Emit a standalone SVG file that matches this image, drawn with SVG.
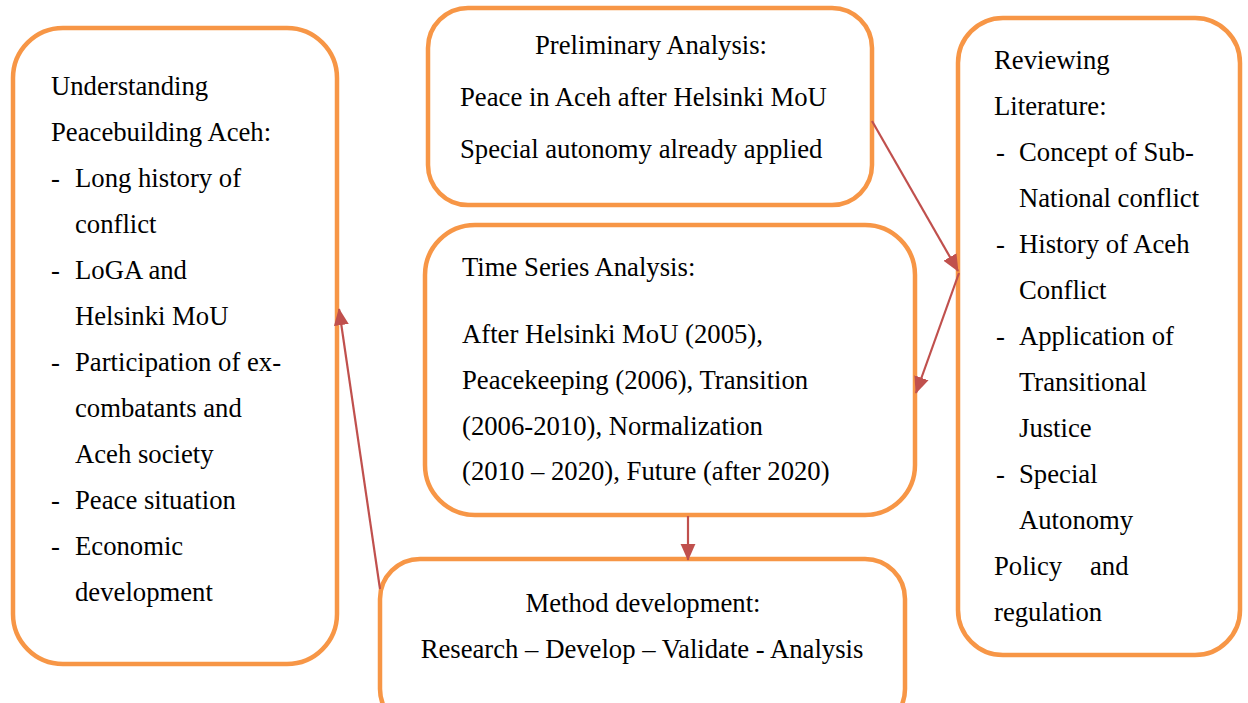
<svg xmlns="http://www.w3.org/2000/svg" width="1248" height="703" viewBox="0 0 1248 703">
<defs>
<style>
.box{fill:#fff;stroke:#F79646;stroke-width:4.5}
.t{font-family:"Liberation Serif","Times New Roman",serif;font-size:26.7px;fill:#000}
.c{text-anchor:middle}
.a{stroke:#C0504D;stroke-width:2.2;fill:none}
</style>
<marker id="ah2" viewBox="0 0 10 10" refX="9.5" refY="5" markerWidth="17" markerHeight="17" markerUnits="userSpaceOnUse" orient="auto">
<path d="M0,0.6 L10,5 L0,9.4 Z" fill="#C0504D"/>
</marker>
</defs>
<rect width="1248" height="703" fill="#fff"/>
<g id="understanding">
<rect class="box" x="13" y="28" width="324" height="636" rx="50"/>
<text class="t" x="51" y="95">Understanding</text>
<text class="t" x="51" y="141">Peacebuilding Aceh:</text>
<text class="t" x="51" y="187">-</text><text class="t" x="75" y="187">Long history of</text>
<text class="t" x="75" y="233">conflict</text>
<text class="t" x="51" y="279">-</text><text class="t" x="75" y="279">LoGA and</text>
<text class="t" x="75" y="325">Helsinki MoU</text>
<text class="t" x="51" y="371">-</text><text class="t" x="75" y="371">Participation of ex-</text>
<text class="t" x="75" y="417">combatants and</text>
<text class="t" x="75" y="463">Aceh society</text>
<text class="t" x="51" y="509">-</text><text class="t" x="75" y="509">Peace situation</text>
<text class="t" x="51" y="555">-</text><text class="t" x="75" y="555">Economic</text>
<text class="t" x="75" y="601">development</text>
</g>
<g id="preliminary">
<rect class="box" x="428" y="8" width="444" height="197" rx="40"/>
<text class="t c" x="651" y="54">Preliminary Analysis:</text>
<text class="t" x="460" y="106">Peace in Aceh after Helsinki MoU</text>
<text class="t" x="460" y="158">Special autonomy already applied</text>
</g>
<g id="timeseries">
<rect class="box" x="425" y="225" width="490" height="290" rx="50"/>
<text class="t" x="462" y="276">Time Series Analysis:</text>
<text class="t" x="462" y="343">After Helsinki MoU (2005),</text>
<text class="t" x="462" y="389">Peacekeeping (2006), Transition</text>
<text class="t" x="462" y="435">(2006-2010), Normalization</text>
<text class="t" x="462" y="480">(2010 – 2020), Future (after 2020)</text>
</g>
<g id="method">
<rect class="box" x="380" y="559" width="525" height="170" rx="40"/>
<text class="t c" x="643" y="612">Method development:</text>
<text class="t c" x="642" y="658">Research – Develop – Validate - Analysis</text>
</g>
<g id="literature">
<rect class="box" x="958" y="18" width="282" height="637" rx="45"/>
<text class="t" x="994" y="69">Reviewing</text>
<text class="t" x="994" y="115">Literature:</text>
<text class="t" x="996" y="161">-</text><text class="t" x="1019" y="161">Concept of Sub-</text>
<text class="t" x="1019" y="207">National conflict</text>
<text class="t" x="996" y="253">-</text><text class="t" x="1019" y="253">History of Aceh</text>
<text class="t" x="1019" y="299">Conflict</text>
<text class="t" x="996" y="345">-</text><text class="t" x="1019" y="345">Application of</text>
<text class="t" x="1019" y="391">Transitional</text>
<text class="t" x="1019" y="437">Justice</text>
<text class="t" x="996" y="483">-</text><text class="t" x="1019" y="483">Special</text>
<text class="t" x="1019" y="529">Autonomy</text>
<text class="t" x="994" y="575">Policy</text><text class="t" x="1090" y="575">and</text>
<text class="t" x="994" y="621">regulation</text>
</g>
<g id="connectors">
<line class="a" x1="380" y1="589" x2="339" y2="309" marker-end="url(#ah2)"/>
<line class="a" x1="872" y1="121" x2="958" y2="271" marker-end="url(#ah2)"/>
<line class="a" x1="959" y1="273" x2="916" y2="393" marker-end="url(#ah2)"/>
<line class="a" x1="688" y1="516" x2="688" y2="560" marker-end="url(#ah2)"/>
</g>
</svg>
